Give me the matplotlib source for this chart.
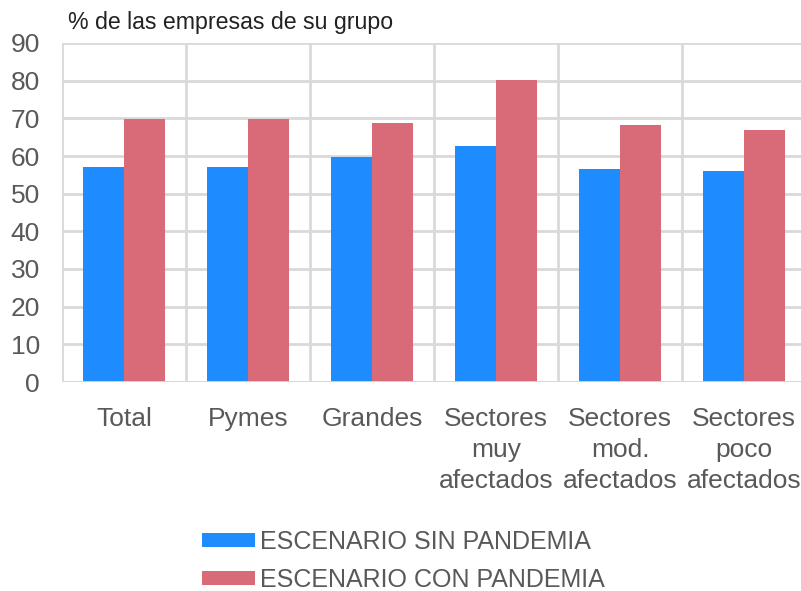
import numpy as np
import matplotlib.pyplot as plt

plt.rcParams['font.family'] = ['Liberation Sans', 'DejaVu Sans']

categories = ['Total', 'Pymes', 'Grandes', 'Sectores\nmuy\nafectados',
              'Sectores\nmod.\nafectados', 'Sectores\npoco\nafectados']
sin_pandemia = [57.0, 57.0, 59.8, 62.6, 56.5, 55.9]
con_pandemia = [69.8, 69.8, 68.8, 80.2, 68.2, 67.0]
yticks = [0, 10, 20, 30, 40, 50, 60, 70, 80, 90]

blue = '#1E8CFF'
red = '#D96B78'
txt = '#595959'
grid = '#D9D9D9'

fig = plt.figure(figsize=(8.01, 5.91), dpi=100)
ax = fig.add_axes([62/801, 1-382/591, 744/801, 339/591])

x = np.arange(len(categories))
w = 0.33
ax.bar(x - w/2, sin_pandemia, w, color=blue, label='ESCENARIO SIN PANDEMIA', zorder=3)
ax.bar(x + w/2, con_pandemia, w, color=red, label='ESCENARIO CON PANDEMIA', zorder=3)

ax.set_xlim(-0.5, len(categories) - 0.5)
ax.set_ylim(0, 90)
ax.set_yticks(yticks)
ax.set_xticks(x)
ax.set_xticklabels(categories, linespacing=1.36)
ax.set_xticks(np.arange(len(categories) + 1) - 0.5, minor=True)

ax.grid(axis='y', which='major', color=grid, linewidth=2, zorder=0)
ax.grid(axis='x', which='minor', color=grid, linewidth=2, zorder=0)
ax.grid(axis='x', which='major', visible=False)
for s in ax.spines.values():
    s.set_visible(False)
ax.axhline(0, color=grid, linewidth=2, zorder=4)

ax.tick_params(axis='both', which='both', length=0, colors=txt, labelsize=19)
ax.tick_params(axis='y', pad=16)
ax.tick_params(axis='x', pad=18)

fig.text(68/801, 1-22/591, '% de las empresas de su grupo', fontsize=16.7,
         color='#222222', va='center', ha='left')

leg = fig.legend(loc='upper left', bbox_to_anchor=(192/801, 1-520/591),
                 frameon=False, fontsize=18, handlelength=2.1, handleheight=0.5,
                 handletextpad=0.2, labelspacing=0.55, borderaxespad=0)
for t in leg.get_texts():
    t.set_color(txt)

fig.savefig('out.png', dpi=100)
